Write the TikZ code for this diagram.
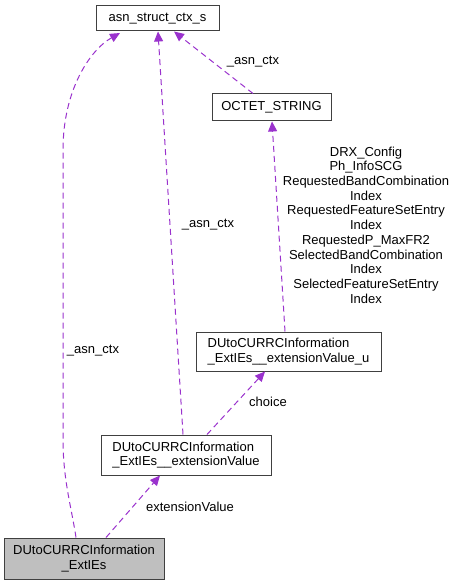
\documentclass[tikz,border=0pt]{standalone}
\usepackage{fontspec}
\setmainfont{Liberation Sans}
\usetikzlibrary{arrows.meta}
\definecolor{edgec}{HTML}{9A32CD}
\definecolor{boxc}{HTML}{404040}
\definecolor{grayfill}{HTML}{BFBFBF}
\begin{document}
\begin{tikzpicture}[x=1pt,y=-1pt,
  every node/.style={font=\fontsize{13}{14.7}\selectfont},
  cls/.style={draw=boxc,line width=1pt,fill=white,inner sep=0pt},
  rel/.style={draw=edgec,line width=1pt,dash pattern=on 6pt off 4pt,
    -{Triangle[length=10pt,width=9pt,fill=edgec]}},
  lbl/.style={inner sep=0pt,align=center}]
\useasboundingbox (0,0) rectangle (455,585);
% nodes
\node[cls,minimum width=123pt,minimum height=25pt] (asn) at (157.5,18.5) {asn\_struct\_ctx\_s};
\node[cls,minimum width=119pt,minimum height=27pt] (oct) at (271.5,107.5) {OCTET\_STRING};
\node[cls,minimum width=185pt,minimum height=39pt,align=left] (evu) at (288.5,351.5) {DUtoCURRCInformation\\\_ExtIEs\_\_extensionValue\_u};
\node[cls,minimum width=170pt,minimum height=40pt,align=left] (ev) at (186,455) {DUtoCURRCInformation\\\_ExtIEs\_\_extensionValue};
\node[cls,fill=grayfill,minimum width=160pt,minimum height=41pt,align=center] (ext) at (84,558.5) {DUtoCURRCInformation\\\_ExtIEs};
% connector anchor points
\coordinate (e1s) at (ext.north -| 76,0);
\coordinate (e1t) at (120,33);
\coordinate (e6s) at (ext.north -| 106,0);
\coordinate (e6t) at (ev.south -| 160,0);
\coordinate (e2s) at (ev.north -| 183,0);
\coordinate (e2t) at (asn.south -| 158,0);
\coordinate (e5s) at (ev.north -| 207,0);
\coordinate (e5t) at (evu.south -| 265,0);
\coordinate (e4s) at (evu.north -| 285,0);
\coordinate (e4t) at (oct.south -| 272,0);
\coordinate (e3s) at (oct.north -| 253,0);
\coordinate (e3t) at (asn.south -| 174,0);
% connectors
\draw[rel] (e1s) .. controls (72,510) and (63,480) .. (63,440) -- (63,150)
  .. controls (63,90) and (90,50) .. (e1t);
\draw[rel] (e2s) -- (e2t);
\draw[rel] (e3s) -- (e3t);
\draw[rel] (e4s) -- (e4t);
\draw[rel] (e5s) -- (e5t);
\draw[rel] (e6s) -- (e6t);
% labels
\node[lbl] (l1) at (93,351) {\_asn\_ctx};
\node[lbl] (l2) at (208,225) {\_asn\_ctx};
\node[lbl] (l3) at (253,62) {\_asn\_ctx};
\node[lbl] (l4) at (366,225) {DRX\_Config\\Ph\_InfoSCG\\RequestedBandCombination\\Index\\RequestedFeatureSetEntry\\Index\\RequestedP\_MaxFR2\\SelectedBandCombination\\Index\\SelectedFeatureSetEntry\\Index};
\node[lbl] (l5) at (268,402) {choice};
\node[lbl] (l6) at (190,507) {extensionValue};
\end{tikzpicture}
\end{document}
